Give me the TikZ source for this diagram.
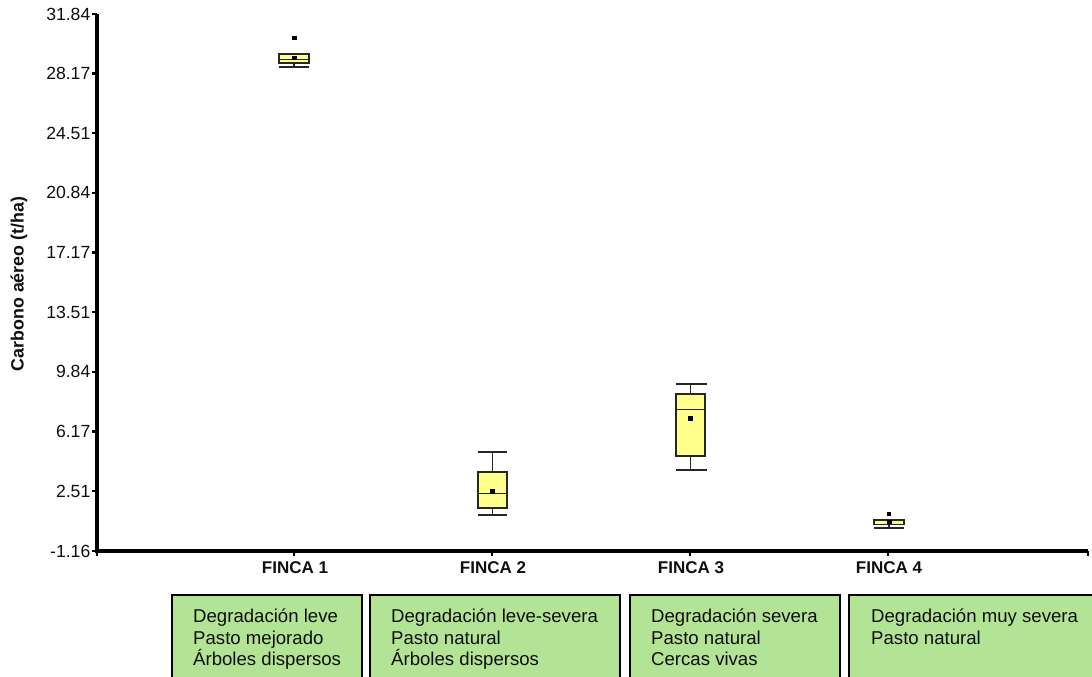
\documentclass[tikz,border=0pt]{standalone}
\usepackage{fontspec}
\setmainfont{Liberation Sans}
\definecolor{boxgreen}{RGB}{179,227,148}
\definecolor{boxyellow}{RGB}{255,255,140}
\definecolor{txt}{RGB}{15,15,15}
\begin{document}
\begin{tikzpicture}[x=1pt,y=-1pt,
  ticklab/.style={anchor=east,inner sep=0pt,text=txt,font=\fontsize{17.6}{19}\selectfont},
  fincalab/.style={anchor=base,inner sep=0pt,text=txt,font=\fontsize{17}{19}\selectfont\bfseries},
  axisline/.style={line width=3.2pt,black},
  tickmark/.style={line width=2.4pt,black},
  whisk/.style={line width=1.6pt,black!85},
  bplot/.style={draw=black!85,line width=1.6pt,fill=boxyellow},
  medline/.style={line width=1pt,black!85},
  meanpt/.style={fill=black},
  infobox/.style={draw=black,line width=1.5pt,fill=boxgreen},
  infotext/.style={anchor=north west,inner sep=0pt,align=left,text=txt,font=\fontsize{18.6}{21.6}\selectfont}]
\useasboundingbox (0,0) rectangle (1092,677);
\fill[white] (0,0) rectangle (1092,677);

% axes
\coordinate (o) at (97,551);
\coordinate (ytop) at (97,14);
\coordinate (xend) at (1088,551);
\draw[axisline] (ytop) -- (o) -- (xend);
\draw[tickmark] (xend) -- ++(0,5);
\draw[tickmark] (o) -- ++(0,5);

% y ticks
\foreach \v/\y in {31.84/14,28.17/73.7,24.51/133.2,20.84/192.9,17.17/252.6,13.51/312.1,9.84/371.8,6.17/431.5,2.51/491.1,-1.16/551} {
  \draw[tickmark] (97,\y) -- (92,\y);
  \node[ticklab] at (90.5,\y) {\v};
}

\node[rotate=90,inner sep=0pt,text=txt,font=\fontsize{17.8}{19}\selectfont\bfseries] (ylab) at (19,284) {Carbono aéreo (t/ha)};

% x ticks and labels
\foreach \x/\n in {294/1,492/2,690/3,888/4} {
  \draw[tickmark] (\x,551) -- (\x,556);
  \node[fincalab] (f\n) at (\x+1,573.5) {FINCA \n};
}

% Finca 1
\draw[whisk] (294,63) -- (294,67);
\draw[whisk] (279,67) -- (309,67);
\filldraw[bplot] (279,54) rectangle (309,63);
\draw[medline] (279,60) -- (309,60);
\fill[meanpt] (291.5,56.5) rectangle (296.5,60.5);
\fill[meanpt] (291.5,36.5) rectangle (296.5,40.5);

% Finca 2
\draw[whisk] (492.5,452) -- (492.5,472);
\draw[whisk] (492.5,508) -- (492.5,515);
\draw[whisk] (478,452) -- (507,452);
\draw[whisk] (478,515) -- (507,515);
\filldraw[bplot] (478,472) rectangle (507,508);
\draw[medline] (478,493) -- (507,493);
\fill[meanpt] (490,489) rectangle (495,493.5);

% Finca 3
\draw[whisk] (690.5,384) -- (690.5,394);
\draw[whisk] (690.5,456) -- (690.5,470);
\draw[whisk] (676,384) -- (707,384);
\draw[whisk] (676,470) -- (707,470);
\filldraw[bplot] (676,394) rectangle (705,456);
\draw[medline] (676,409) -- (705,409);
\fill[meanpt] (688,416) rectangle (693,420.5);

% Finca 4
\draw[whisk] (889,524) -- (889,528);
\draw[whisk] (874,528) -- (904,528);
\filldraw[bplot] (874,520) rectangle (904,524.5);
\fill[meanpt] (887,520) rectangle (891.5,524);
\fill[meanpt] (887,512) rectangle (891,516);

% info boxes
\filldraw[infobox] (172,595) rectangle (362,680);
\filldraw[infobox] (370,595) rectangle (620,680);
\filldraw[infobox] (630,595) rectangle (840,680);
\filldraw[infobox] (849,595) rectangle (1096,680);

\node[infotext] (t1) at (193,608.5) {Degradación leve\\Pasto mejorado\\Árboles dispersos};
\node[infotext] (t2) at (391,608.5) {Degradación leve-severa\\Pasto natural\\Árboles dispersos};
\node[infotext] (t3) at (651,608.5) {Degradación severa\\Pasto natural\\Cercas vivas};
\node[infotext] (t4) at (871,608.5) {Degradación muy severa\\Pasto natural};
\end{tikzpicture}
\end{document}
